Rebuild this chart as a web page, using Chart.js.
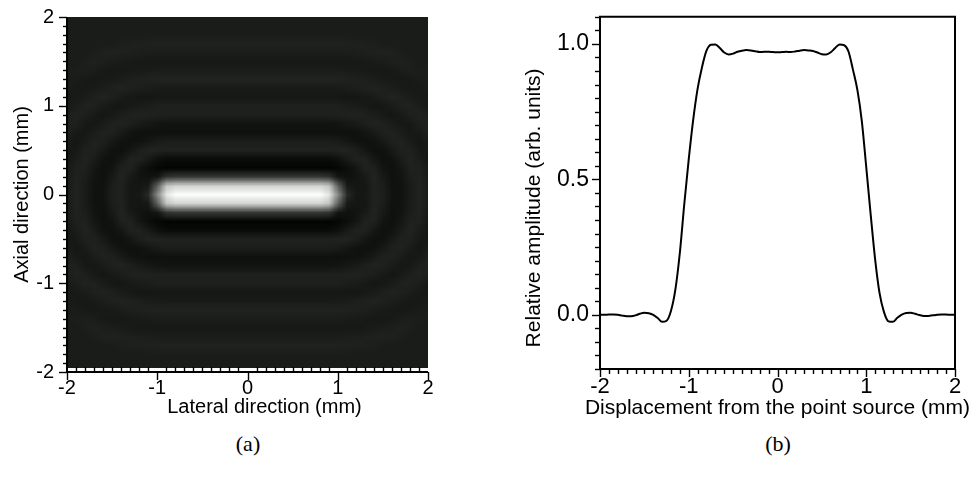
<!DOCTYPE html>
<html>
<head>
<meta charset="utf-8">
<script src="https://cdn.jsdelivr.net/npm/chart.js@4.4.1/dist/chart.umd.min.js"></script>
<style>
  html, body { margin: 0; padding: 0; background: #fff; }
  body { width: 971px; height: 491px; position: relative; overflow: hidden; }
  .panel { position: absolute; top: 0; height: 430px; }
  #panelA { left: 0; width: 480px; }
  #panelB { left: 500px; width: 471px; }
  .caption { position: absolute; top: 431px; transform: translateX(-50%);
             font-family: "Liberation Serif", "DejaVu Serif", serif; font-size: 22px; color: #000; }
</style>
</head>
<body>
<div class="panel" id="panelA"><canvas id="psfMap"></canvas></div>
<div class="panel" id="panelB"><canvas id="profileChart"></canvas></div>
<div class="caption" style="left:248px">(a)</div>
<div class="caption" style="left:778px">(b)</div>
<script>
// ---- data ----

// (a) beam image: one quadrant (x >= 0, y >= 0), gray level 0-255,
// rows are axial 0.0 .. 2.0 mm, columns lateral 0.0 .. 2.0 mm, step 0.1 mm
const mapStep = 0.1;
const psfQuadrant = [
  [252,252,252,252,252,252,252,252,252,228,135,40,22,22,32,29,17,16,26,33,26],
  [210,210,210,210,210,210,210,210,210,195,95,24,21,21,32,28,16,17,26,33,26],
  [55,55,55,55,55,55,55,55,55,50,20,16,18,24,34,24,15,18,28,32,25],
  [3,3,3,3,3,3,3,3,3,3,6,12,20,32,31,19,15,21,31,31,23],
  [10,10,10,10,10,10,10,10,10,10,15,24,32,32,22,15,17,26,33,27,21],
  [32,32,32,32,32,32,32,32,32,32,33,34,29,21,15,16,24,31,31,24,21],
  [28,28,28,28,28,28,28,28,28,28,26,21,17,15,17,23,30,32,26,21,25],
  [15,15,15,15,15,15,15,15,15,15,15,15,16,19,25,31,32,27,22,24,30],
  [18,18,18,18,18,18,18,18,18,18,19,22,25,30,33,31,26,22,23,30,32],
  [30,30,30,30,30,30,30,30,30,30,31,32,33,31,28,24,21,24,30,32,29],
  [31,31,31,31,31,31,31,31,31,31,30,28,26,24,21,22,26,31,32,28,24],
  [22,22,22,22,22,22,22,22,22,22,22,21,21,23,26,30,33,31,27,24,23],
  [25,25,25,25,25,25,25,25,25,25,26,27,29,31,33,31,28,25,23,24,26],
  [33,33,33,33,33,33,33,33,33,33,33,32,31,30,27,25,24,23,24,26,27],
  [27,27,27,27,27,27,27,27,27,27,27,26,25,24,23,23,24,27,29,28,27],
  [23,23,23,23,23,23,23,23,23,23,23,23,23,24,26,27,29,31,29,26,26],
  [27,27,27,27,27,27,27,27,27,27,27,28,29,30,31,32,31,28,26,26,26],
  [32,32,32,32,32,32,32,32,32,32,32,31,31,30,29,27,26,26,26,26,26],
  [27,27,27,27,27,27,27,27,27,27,27,27,26,26,26,26,26,26,26,26,26],
  [26,26,26,26,26,26,26,26,26,26,26,26,26,26,26,26,26,26,26,26,26],
  [26,26,26,26,26,26,26,26,26,26,26,26,26,26,26,26,26,26,26,26,26]
];

// (b) lateral profile through the point source
const displacement = [
  -2, -1.95, -1.9, -1.85, -1.8, -1.75, -1.7, -1.65, -1.6, -1.55,
  -1.5, -1.45, -1.4, -1.35, -1.3, -1.25, -1.2, -1.15, -1.1, -1.05,
  -1, -0.95, -0.9, -0.85, -0.8, -0.75, -0.7, -0.65, -0.6, -0.55,
  -0.5, -0.45, -0.4, -0.35, -0.3, -0.25, -0.2, -0.15, -0.1, -0.05,
  0,
  0.05, 0.1, 0.15, 0.2, 0.25, 0.3, 0.35, 0.4, 0.45, 0.5,
  0.55, 0.6, 0.65, 0.7, 0.75, 0.8, 0.85, 0.9, 0.95, 1,
  1.05, 1.1, 1.15, 1.2, 1.25, 1.3, 1.35, 1.4, 1.45, 1.5,
  1.55, 1.6, 1.65, 1.7, 1.75, 1.8, 1.85, 1.9, 1.95, 2
];
const amplitude = [
  0.000, 0.000, 0.001, 0.001, 0.000, -0.003, -0.005, -0.005, -0.002, 0.004,
  0.008, 0.006, 0.000, -0.012, -0.026, -0.022, 0.015, 0.095, 0.230, 0.410,
  0.575, 0.720, 0.835, 0.915, 0.975, 0.997, 0.998, 0.985, 0.968, 0.961,
  0.964, 0.971, 0.975, 0.977, 0.976, 0.973, 0.970, 0.971, 0.971, 0.970,
  0.969,
  0.970, 0.971, 0.970, 0.972, 0.975, 0.977, 0.976, 0.974, 0.968, 0.962,
  0.961, 0.969, 0.985, 0.998, 0.995, 0.972, 0.905, 0.830, 0.715, 0.545,
  0.370, 0.205, 0.080, 0.010, -0.024, -0.026, -0.011, 0.001, 0.007, 0.008,
  0.004, -0.001, -0.004, -0.004, -0.002, 0.000, 0.001, 0.001, 0.000, 0.000
];

// tick labels and axis titles
const mmTicks = [-2, -1, 0, 1, 2];
const mmTickLabels = ['-2', '-1', '0', '1', '2'];
const ampTicks = [0, 0.5, 1.0];
const ampTickLabels = ['0.0', '0.5', '1.0'];
const titlesA = { x: 'Lateral direction (mm)', y: 'Axial direction (mm)' };
const titlesB = { x: 'Displacement from the point source (mm)', y: 'Relative amplitude (arb. units)' };

// ---- helpers ----
const FONT = '"Liberation Sans", Arial, Helvetica, sans-serif';

function isMajor(value, majors) {
    return majors.some(m => Math.abs(m - value) < 1e-6);
}

function labelFor(majors, labels) {
    return function(value) {
        const i = majors.findIndex(m => Math.abs(m - value) < 1e-6);
        return i >= 0 ? labels[i] : '';
    };
}

function stepTicks(min, max, step) {
    return function(axis) {
        const list = [];
        const n = Math.round((max - min) / step);
        for (let i = 0; i <= n; i++) {
            list.push({ value: Math.round((min + i * step) * 1000) / 1000 });
        }
        axis.ticks = list;
    };
}

function buildMapImage() {
    const n = psfQuadrant.length;
    const size = 2 * n - 1;
    const off = document.createElement('canvas');
    off.width = size;
    off.height = size;
    const octx = off.getContext('2d');
    const img = octx.createImageData(size, size);
    for (let j = 0; j < size; j++) {
        const row = psfQuadrant[Math.abs(j - (n - 1))];
        for (let i = 0; i < size; i++) {
            const v = row[Math.abs(i - (n - 1))];
            const k = (j * size + i) * 4;
            img.data[k] = v;
            img.data[k + 1] = Math.min(255, v + 2);
            img.data[k + 2] = v;
            img.data[k + 3] = 255;
        }
    }
    octx.putImageData(img, 0, 0);
    return { canvas: off, extent: (n - 1) * mapStep };
}

// axis lines and tick marks, minor/major lengths differ
function drawAxes(chart, cfg) {
    const { ctx, chartArea: a, scales } = chart;
    ctx.save();
    ctx.strokeStyle = '#000';
    ctx.lineWidth = 1.4;
    scales.x.ticks.forEach(t => {
        const px = Math.round(scales.x.getPixelForValue(t.value)) + 0.5;
        const major = isMajor(t.value, cfg.xMajors);
        ctx.beginPath();
        if (major) {
            ctx.moveTo(px, a.bottom - cfg.xMajorUp);
            ctx.lineTo(px, a.bottom + cfg.xMajorDown);
        } else {
            ctx.moveTo(px, a.bottom - cfg.xMinorUp);
            ctx.lineTo(px, a.bottom + cfg.xMinorDown);
        }
        ctx.stroke();
    });
    scales.y.ticks.forEach(t => {
        const py = Math.round(scales.y.getPixelForValue(t.value)) + 0.5;
        const major = isMajor(t.value, cfg.yMajors);
        ctx.beginPath();
        ctx.moveTo(a.left - (major ? 8 : cfg.yMinor), py);
        ctx.lineTo(a.left, py);
        ctx.stroke();
    });
    ctx.lineWidth = 2;
    ctx.beginPath();
    if (cfg.box) {
        ctx.rect(a.left, a.top, a.right - a.left, a.bottom - a.top);
    } else {
        ctx.moveTo(a.left, a.top);
        ctx.lineTo(a.left, a.bottom);
        ctx.lineTo(a.right, a.bottom);
    }
    ctx.stroke();

    // axis titles (the reference places them slightly off-centre)
    const midX = (a.left + a.right) / 2, midY = (a.top + a.bottom) / 2;
    ctx.fillStyle = '#000';
    ctx.textAlign = 'center';
    ctx.textBaseline = 'middle';
    ctx.font = cfg.xTitleSize + 'px ' + FONT;
    ctx.fillText(cfg.titles.x, midX + cfg.xTitleShift, a.bottom + cfg.xTitleGap);
    ctx.translate(cfg.yTitleX, midY + cfg.yTitleShift);
    ctx.rotate(-Math.PI / 2);
    ctx.font = cfg.yTitleSize + 'px ' + FONT;
    ctx.fillText(cfg.titles.y, 0, 0);
    ctx.restore();
}

function tickStyle(majors, labels, size, padding) {
    return { autoSkip: false, maxRotation: 0, padding: padding, color: '#000',
             font: { family: FONT, size: size }, callback: labelFor(majors, labels) };
}

// ---- (a) image of the beam ----
const mapImage = buildMapImage();

const mapPlugin = {
    id: 'psfImage',
    beforeDatasetsDraw(chart) {
        const { ctx, scales: { x, y } } = chart;
        const ext = mapImage.extent + mapStep / 2;
        const left = x.getPixelForValue(-ext), right = x.getPixelForValue(ext);
        const top = y.getPixelForValue(ext), bottom = y.getPixelForValue(-ext);
        const clipL = x.getPixelForValue(-2), clipR = x.getPixelForValue(2);
        const clipT = y.getPixelForValue(2), clipB = y.getPixelForValue(-1.955);
        ctx.save();
        ctx.beginPath();
        ctx.rect(clipL, clipT, clipR - clipL, clipB - clipT);
        ctx.clip();
        ctx.imageSmoothingEnabled = true;
        ctx.imageSmoothingQuality = 'low';
        ctx.drawImage(mapImage.canvas, left, top, right - left, bottom - top);
        ctx.restore();
    },
    afterDraw(chart) {
        drawAxes(chart, { xMajors: mmTicks, yMajors: mmTicks, box: false,
                          xMajorUp: 0, xMajorDown: 8, xMinorUp: 5, xMinorDown: 0, yMinor: 4,
                          titles: titlesA, xTitleSize: 20, xTitleShift: 17, xTitleGap: 35,
                          yTitleSize: 20, yTitleX: 22, yTitleShift: 0 });
    }
};

new Chart(document.getElementById('psfMap'), {
    type: 'scatter',
    data: { datasets: [{ data: [] }] },
    options: {
        responsive: true,
        maintainAspectRatio: false,
        animation: false,
        layout: { padding: { top: 11, right: 52, left: 0, bottom: 0 } },
        plugins: { legend: { display: false }, tooltip: { enabled: false } },
        scales: {
            x: {
                type: 'linear', min: -2, max: 2,
                afterBuildTicks: stepTicks(-2, 2, 0.1),
                afterFit: s => { s.height = 58; },
                grid: { display: false, drawTicks: true, tickLength: 4 },
                border: { display: false },
                ticks: tickStyle(mmTicks, mmTickLabels, 20, 0)
            },
            y: {
                type: 'linear', min: -2, max: 2,
                afterBuildTicks: stepTicks(-2, 2, 0.1),
                afterFit: s => { s.width = 67; },
                grid: { display: false, drawTicks: true, tickLength: 8 },
                border: { display: false },
                ticks: tickStyle(mmTicks, mmTickLabels, 20, 5)
            }
        }
    },
    plugins: [mapPlugin]
});

// ---- (b) profile ----
const profilePlugin = {
    id: 'profileAxes',
    afterDraw(chart) {
        drawAxes(chart, { xMajors: mmTicks, yMajors: ampTicks, box: true,
                          xMajorUp: 0, xMajorDown: 8, xMinorUp: 0, xMinorDown: 5, yMinor: 5,
                          titles: titlesB, xTitleSize: 21, xTitleShift: 0, xTitleGap: 39,
                          yTitleSize: 21, yTitleX: 34, yTitleShift: 15 });
    }
};

new Chart(document.getElementById('profileChart'), {
    type: 'scatter',
    data: {
        datasets: [{
            data: displacement.map((x, i) => ({ x: x, y: amplitude[i] })),
            showLine: true,
            borderColor: '#000',
            borderWidth: 2,
            pointRadius: 0,
            cubicInterpolationMode: 'monotone',
            fill: false
        }]
    },
    options: {
        responsive: true,
        maintainAspectRatio: false,
        animation: false,
        layout: { padding: { top: 14, right: 16, left: 0, bottom: 0 } },
        plugins: { legend: { display: false }, tooltip: { enabled: false } },
        scales: {
            x: {
                type: 'linear', min: -2, max: 2,
                afterBuildTicks: stepTicks(-2, 2, 0.1),
                afterFit: s => { s.height = 61; },
                grid: { display: false, drawTicks: true, tickLength: 4 },
                border: { display: false },
                ticks: tickStyle(mmTicks, mmTickLabels, 22, 1)
            },
            y: {
                type: 'linear', min: -0.2, max: 1.1,
                afterBuildTicks: stepTicks(-0.2, 1.1, 0.05),
                afterFit: s => { s.width = 100; },
                grid: { display: false, drawTicks: true, tickLength: 8 },
                border: { display: false },
                ticks: tickStyle(ampTicks, ampTickLabels, 23, 3)
            }
        }
    },
    plugins: [profilePlugin]
});
</script>
</body>
</html>
